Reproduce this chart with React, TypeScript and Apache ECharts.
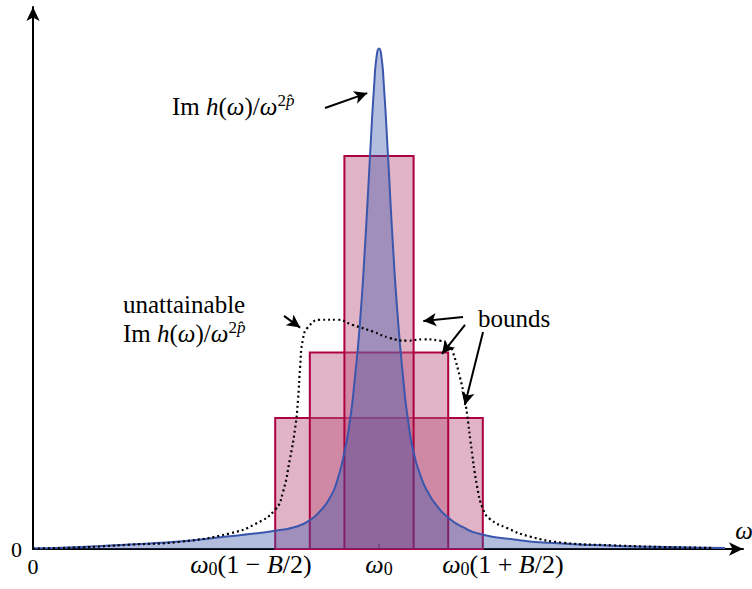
import React, { useEffect, useRef } from "react";
import * as echarts from "echarts";

// Axis extents (ω on x, spectral weight on y)
const X_MAX = 10.26;
const Y_MAX = 4.137;

// Positions and texts of the x-axis labels
const xLabelAt = [0, 3.15, 5, 6.79];
const xLabelText = [
  "{z|0}",
  "{i|ω}{sub|0}{n|(1 − }{i|B}{n|/2)}",
  "{i|ω}{sub|0}",
  "{i|ω}{sub|0}{n|(1 + }{i|B}{n|/2)}",
];
const xTickAt = [5];

// Nested bound rectangles: [left edge, right edge, height]
const boundLeft = [3.5, 4.0, 4.5];
const boundRight = [6.5, 6.0, 5.5];
const boundHeight = [1.0, 1.5, 3.0];

// Im h(ω)/ω^{2p̂}: narrow resonance at ω0
const peakX = [
  0, 0.7, 1.4, 2.1, 2.8, 3.2, 3.5, 3.8, 4.0, 4.15, 4.3, 4.4, 4.5, 4.58, 4.65,
  4.725, 4.8, 4.87, 4.93, 4.97, 5.0, 5.03, 5.07, 5.13, 5.2, 5.27, 5.35, 5.42,
  5.5, 5.6, 5.7, 5.85, 6.0, 6.2, 6.46, 6.95, 7.43, 8.38, 9.35, 10.0,
];
const peakY = [
  0.005, 0.016, 0.035, 0.057, 0.095, 0.118, 0.14, 0.17, 0.22, 0.29, 0.4,
  0.53, 0.74, 0.98, 1.3, 1.73, 2.33, 3.0, 3.54, 3.78, 3.82, 3.78, 3.54, 3.0,
  2.33, 1.78, 1.3, 0.98, 0.74, 0.56, 0.44, 0.32, 0.24, 0.17, 0.115, 0.072,
  0.048, 0.025, 0.013, 0.008,
];

// Unattainable broad spectral function (dotted)
const broadX = [
  0, 0.68, 1.4, 2.12, 2.85, 3.21, 3.5, 3.61, 3.71, 3.79, 3.83, 3.86, 3.9,
  3.97, 4.15, 4.39, 4.62, 4.91, 5.16, 5.4, 5.64, 5.88, 6.03, 6.07, 6.17, 6.24,
  6.29, 6.32, 6.42, 6.5, 6.6, 6.85, 7.18, 7.66, 8.38, 9.1, 9.83,
];
const broadY = [
  0.003, 0.012, 0.033, 0.055, 0.12, 0.19, 0.3, 0.43, 0.68, 0.93, 1.14, 1.39,
  1.6, 1.69, 1.75, 1.75, 1.71, 1.66, 1.61, 1.59, 1.6, 1.59, 1.54, 1.5, 1.31,
  1.14, 0.96, 0.83, 0.47, 0.31, 0.23, 0.16, 0.095, 0.048, 0.028, 0.015, 0.008,
];

// Annotation arrows: [from x, from y, to x, to y]
const arrows = [
  [4.22, 3.366, 4.83, 3.48],
  [3.627, 1.779, 3.86, 1.69],
  [6.214, 1.771, 5.64, 1.74],
  [6.243, 1.71, 5.91, 1.49],
  [6.503, 1.656, 6.24, 1.1],
];

const FONT = '"Liberation Serif", "Times New Roman", serif';

export default function App() {
  const ref = useRef<HTMLDivElement>(null);

  useEffect(() => {
    if (!ref.current) return;
    const chart = echarts.init(ref.current, null, { renderer: "svg" });

    const rects = boundLeft.map((l, i) => [l, boundRight[i], boundHeight[i]]);
    const peak = peakX.map((x, i) => [x, peakY[i]]);
    const broad = broadX.map((x, i) => [x, broadY[i]]);

    const mathRich = {
      r: { fontFamily: FONT, fontSize: 25, color: "#000" },
      i: { fontFamily: FONT, fontSize: 25, fontStyle: "italic", color: "#000" },
      sup: {
        fontFamily: FONT,
        fontSize: 17,
        color: "#000",
        padding: [0, 0, 12, 0],
      },
      supi: {
        fontFamily: FONT,
        fontSize: 17,
        fontStyle: "italic",
        color: "#000",
        padding: [0, 0, 12, 0],
      },
    };
    const imLabel = "{r|Im }{i|h}{r|(}{i|ω}{r|)/}{i|ω}{sup|2}{supi|p\u0302}";

    chart.setOption({
      animation: false,
      grid: { left: 33, right: 9, top: 7, bottom: 40, containLabel: false },
      xAxis: {
        type: "value",
        min: 0,
        max: X_MAX,
        axisLine: {
          show: true,
          onZero: false,
          symbol: ["none", "arrow"],
          symbolSize: [10, 14],
          lineStyle: { color: "#000", width: 2 },
        },
        axisTick: {
          show: true,
          inside: true,
          length: 5,
          customValues: xTickAt,
          lineStyle: { color: "#000", width: 2 },
        },
        axisLabel: {
          show: true,
          customValues: xLabelAt,
          showMinLabel: true,
          showMaxLabel: true,
          margin: 1,
          formatter: (v: number) => {
            const k = xLabelAt.findIndex((p) => Math.abs(p - v) < 1e-6);
            return k >= 0 ? xLabelText[k] : "";
          },
          rich: {
            z: {
              fontFamily: FONT,
              fontSize: 22,
              color: "#000",
              padding: [5, 0, 0, 0],
            },
            n: { fontFamily: FONT, fontSize: 26, color: "#000" },
            i: {
              fontFamily: FONT,
              fontSize: 26,
              fontStyle: "italic",
              color: "#000",
            },
            sub: {
              fontFamily: FONT,
              fontSize: 18,
              color: "#000",
              padding: [10, 0, 0, 0],
            },
          },
        },
        splitLine: { show: false },
      },
      yAxis: {
        type: "value",
        min: 0,
        max: Y_MAX,
        axisLine: {
          show: true,
          symbol: ["none", "arrow"],
          symbolSize: [10, 14],
          lineStyle: { color: "#000", width: 2 },
        },
        axisTick: { show: false },
        axisLabel: {
          show: true,
          customValues: [0],
          showMinLabel: true,
          margin: 11,
          fontFamily: FONT,
          fontSize: 22,
          color: "#000",
          formatter: () => "0",
        },
        splitLine: { show: false },
      },
      series: [
        {
          type: "custom",
          z: 1,
          silent: true,
          encode: { x: [0, 1], y: 2 },
          data: rects,
          renderItem: (_p: any, api: any) => {
            const a = api.coord([api.value(0), api.value(2)]);
            const b = api.coord([api.value(1), 0]);
            return {
              type: "rect",
              shape: { x: a[0], y: a[1], width: b[0] - a[0], height: b[1] - a[1] },
              style: {
                fill: "rgba(186,86,126,0.45)",
                stroke: "#ad0040",
                lineWidth: 2,
              },
            };
          },
        },
        {
          type: "line",
          z: 2,
          silent: true,
          data: peak,
          smooth: 0.6,
          showSymbol: false,
          lineStyle: { color: "#3a56ad", width: 2 },
          areaStyle: { color: "rgba(58,86,173,0.55)" },
        },
        {
          type: "line",
          z: 3,
          silent: true,
          data: broad,
          smooth: 0.5,
          showSymbol: false,
          lineStyle: { color: "#000", width: 2.2, type: [2, 3] },
          markLine: {
            silent: true,
            symbol: ["none", "arrow"],
            symbolSize: [10, 13],
            label: { show: false },
            lineStyle: { color: "#000", width: 2, type: "solid" },
            data: arrows.map((a) => [
              { coord: [a[0], a[1]] },
              { coord: [a[2], a[3]] },
            ]),
          },
        },
      ],
      graphic: [
        {
          type: "text",
          x: 172,
          y: 106,
          silent: true,
          style: {
            text: imLabel,
            rich: mathRich,
            align: "left",
            verticalAlign: "middle",
          },
        },
        {
          type: "text",
          x: 123,
          y: 304,
          silent: true,
          style: {
            text: "{r|unattainable}",
            rich: mathRich,
            align: "left",
            verticalAlign: "middle",
          },
        },
        {
          type: "text",
          x: 123,
          y: 333,
          silent: true,
          style: {
            text: imLabel,
            rich: mathRich,
            align: "left",
            verticalAlign: "middle",
          },
        },
        {
          type: "text",
          x: 478,
          y: 318,
          silent: true,
          style: {
            text: "{r|bounds}",
            rich: mathRich,
            align: "left",
            verticalAlign: "middle",
          },
        },
        {
          type: "text",
          x: 744,
          y: 530,
          silent: true,
          style: {
            text: "{i|ω}",
            rich: mathRich,
            align: "center",
            verticalAlign: "middle",
          },
        },
      ],
    });

    return () => chart.dispose();
  }, []);

  return (
    <div
      ref={ref}
      style={{ position: "absolute", left: 0, top: 0, width: 752, height: 589 }}
    />
  );
}
